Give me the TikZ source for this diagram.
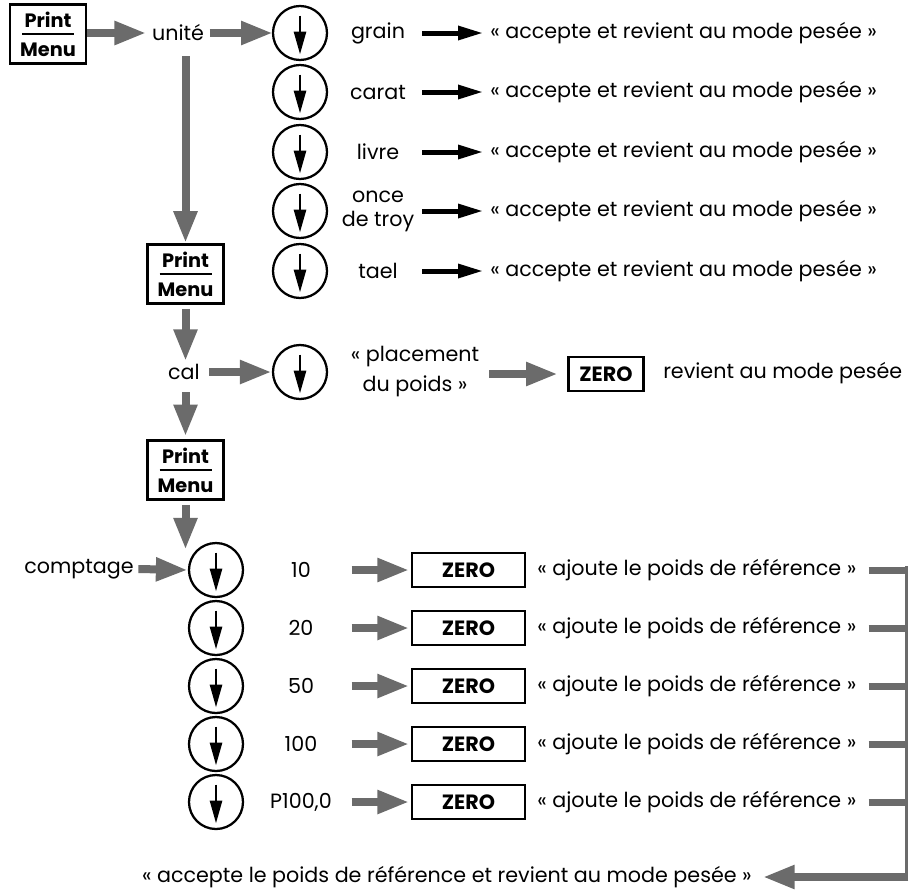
\documentclass[tikz,border=0pt]{standalone}
\usepackage{fontspec}
\setmainfont{Poppins}
\usetikzlibrary{arrows.meta}
\definecolor{arrowgray}{HTML}{6B6B6B}
\tikzset{
  font={\fontsize{15.5pt}{18pt}\selectfont},
  pmbox/.style={draw, line width=2.2pt, minimum width=57pt, minimum height=44pt,
    inner sep=0pt, align=center, font={\fontsize{14.5pt}{21.5pt}\selectfont\bfseries},
    path picture={\draw[line width=1.9pt]
      ([xshift=-19.5pt]path picture bounding box.center) -- ([xshift=19.5pt]path picture bounding box.center);}},
  zerobox/.style={draw, line width=2pt, minimum width=84.75pt, minimum height=25.5pt,
    inner sep=0pt, font={\fontsize{15.5pt}{18pt}\selectfont\bfseries}},
  selcircle/.style={circle, draw, line width=1.7pt, minimum size=40.5pt, inner sep=0pt,
    path picture={\draw[line width=1.9pt, -{Triangle[length=17pt,width=9pt]}]
      ([yshift=13pt]path picture bounding box.center) -- ([yshift=-16pt]path picture bounding box.center);}},
  unitlabel/.style={minimum width=54pt, inner sep=0pt, align=center},
  countlabel/.style={minimum width=67.5pt, inner sep=0pt},
  garrow/.style={draw=arrowgray, line width=6pt, -{Triangle[length=24pt,width=16.5pt]}},
  barrow/.style={line width=3.75pt, -{Triangle[length=19pt,width=10pt]}},
  gline/.style={draw=arrowgray, line width=5.25pt},
}
\begin{document}
\begin{tikzpicture}[x=0.75pt,y=-0.75pt]
\useasboundingbox (0,0) rectangle (909,890);
% unite
\node[pmbox] (pm1) at (48,34) {Print\\Menu};
\node[inner sep=1pt] (unite) at (178,33) {unité};
\draw[garrow, shorten >=3pt] (pm1.east |- unite.west) -- (unite.west);
\draw[garrow, shorten <=3pt] (unite.east) -- (unite.east -| 273,0);
\foreach \i/\y/\unit in {1/33/grain, 2/92/carat, 3/152/livre, 4/211/{once\\de troy}, 5/271/tael}{
  \node[selcircle] (u\i) at (300,\y) {};
  \node[unitlabel] (ul\i) at (378,\y) {\unit};
  \node[anchor=west, inner sep=0pt] (acc\i) at (490,\y) {« accepte et revient au mode pesée »};
  \draw[barrow, shorten <=6pt, shorten >=5pt] (ul\i.east) -- (acc\i.west);
}
% cal
\node[pmbox] (pm2) at (185.5,274) {Print\\Menu};
\draw[garrow, shorten <=10pt] (pm2.north |- unite.south) -- (pm2.north);
\node[inner sep=2pt] (cal) at (184,372) {cal};
\draw[garrow, shorten <=3pt] (pm2.south) -- (pm2.south |- cal.north);
\node[selcircle] (u6) at (300,372) {};
\draw[garrow, shorten <=5pt] (cal.east) -- (u6.west);
\node[align=center, font={\fontsize{15.5pt}{22.5pt}\selectfont}] (place) at (415,372) {« placement\\du poids »};
\node[zerobox, minimum width=56pt] (zero0) at (606,374) {ZERO};
\draw[garrow, shorten <=4pt, shorten >=7pt] (place.east |- zero0.west) -- (zero0.west);
\node[anchor=west, inner sep=0pt] (rev) at (663,373) {revient au mode pesée};
% comptage
\node[pmbox] (pm3) at (185.5,470) {Print\\Menu};
\draw[garrow, shorten <=7pt, shorten >=2pt] (pm3.north |- cal.south) -- (pm3.north);
\node (count) at (79,569) {comptage};
\coordinate (rtop) at (906,566);
\coordinate (rbot) at (906,877);
\foreach \i/\y/\n in {1/570/10, 2/628/20, 3/686/50, 4/744/100, 5/802/{P100,0}}{
  \node[selcircle] (c\i) at (216,\y) {};
  \node[countlabel] (n\i) at (301,\y) {\n};
  \node[zerobox] (z\i) at (468.5,\y) {ZERO};
  \node[anchor=west, inner sep=0pt] (ref\i) at (537,\y) {« ajoute le poids de référence »};
  \draw[garrow, shorten <=4pt, shorten >=1pt] (n\i.east) -- (z\i.west);
  \draw[gline] ([xshift=9pt]ref\i.east) -- (ref\i.east -| rtop);
}
\draw[garrow, shorten <=3pt, shorten >=-6pt] (pm3.south) -- (pm3.south |- c1.north);
\draw[garrow] (count.east) -- (c1.west);
\draw[arrowgray, line width=2.25pt] (rtop) -- (rbot);
\node[anchor=east, inner sep=0pt] (fin) at (752,877) {« accepte le poids de référence et revient au mode pesée »};
\draw[garrow, shorten >=8pt] ([xshift=1.7pt]rbot) -- (fin.east);
\end{tikzpicture}
\end{document}
